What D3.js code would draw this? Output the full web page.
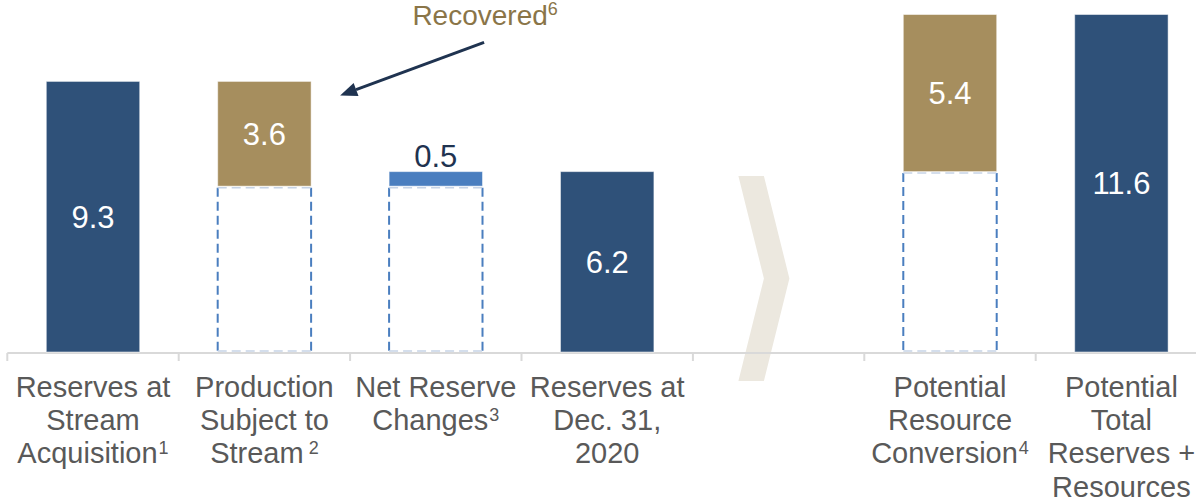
<!DOCTYPE html>
<html>
<head>
<meta charset="utf-8">
<script src="https://cdn.jsdelivr.net/npm/d3@7/dist/d3.min.js"></script>
<style>
  html, body { margin: 0; padding: 0; background: #ffffff; }
  svg { display: block; font-family: "Liberation Sans", Arial, sans-serif; }
</style>
</head>
<body>
<svg id="chart" width="1196" height="500"></svg>
<script>
// Reserve walk: category labels (one entry per line), footnote markers and step values
const categoryLines = [
  ["Reserves at", "Stream", "Acquisition"],
  ["Production", "Subject to", "Stream"],
  ["Net Reserve", "Changes"],
  ["Reserves at", "Dec. 31,", "2020"],
  [],
  ["Potential", "Resource", "Conversion"],
  ["Potential", "Total", "Reserves +", "Resources"]
];
const footnotes = ["1", "2", "3", "", "", "4", ""];
const stepKinds = ["total", "recovered", "change", "total", "gap", "resource", "total"];
const stepValues = [9.3, 3.6, 0.5, 6.2, null, 5.4, 11.6];
const annotationText = "Recovered";
const annotationNote = "6";

const colors = {
  total: "#2f5179",
  recovered: "#a68e5e",
  resource: "#a68e5e",
  change: "#4a7ebf",
  dashSide: "#4a7ebf",
  dashEdge: "#c6d3e6",
  axis: "#d9d9d9",
  label: "#595959",
  dark: "#1f3350",
  note: "#8a7548",
  chevron: "#ece8df"
};

const svg = d3.select("#chart");
const baseY = 352;

// Build the floating segments of the walk
let level = 0;
const segs = stepKinds.map((kind, i) => {
  const v = stepValues[i];
  let lo = null, hi = null;
  if (kind === "total") { lo = 0; hi = v; level = v; }
  else if (kind === "recovered") { hi = level; lo = level - v; level = lo; }
  else if (kind === "change" || kind === "resource") { lo = level; hi = level + v; level = hi; }
  return { i, kind, value: v, lo, hi };
});

const slots = d3.range(categoryLines.length);
const x = d3.scaleBand().domain(slots).range([7.3, 7.3 + 7 * 171.4]).padding(0);
const y = d3.scaleLinear().domain([0, 11.6]).range([baseY, 14.5]);
const barW = x.bandwidth() * 0.545;
const barX = i => x(i) + (x.bandwidth() - barW) / 2;

// Chevron separating reported reserves from potential resources
const gapIdx = stepKinds.indexOf("gap");
const cx0 = x(gapIdx) + 45.5;
const chevTop = 176, chevBot = 381, chevMid = (chevTop + chevBot) / 2;
svg.append("path")
  .attr("d", `M${cx0},${chevTop} L${cx0 + 25.5},${chevTop} L${cx0 + 51},${chevMid} L${cx0 + 25.5},${chevBot} L${cx0},${chevBot} L${cx0 + 25.5},${chevMid} Z`)
  .attr("fill", colors.chevron);

// Axis line with separators between categories
const axisG = svg.append("g");
axisG.append("line")
  .attr("x1", x.range()[0]).attr("x2", 1196)
  .attr("y1", baseY + 1).attr("y2", baseY + 1)
  .attr("stroke", colors.axis).attr("stroke-width", 2);
axisG.selectAll("line.tick")
  .data(slots.concat([slots.length]))
  .join("line")
  .attr("class", "tick")
  .attr("x1", d => d < slots.length ? x(d) : x.range()[1])
  .attr("x2", d => d < slots.length ? x(d) : x.range()[1])
  .attr("y1", baseY + 1).attr("y2", baseY + 9)
  .attr("stroke", colors.axis).attr("stroke-width", 2);

// Dashed outlines under the floating segments
const floating = segs.filter(s => s.kind === "recovered" || s.kind === "change" || s.kind === "resource");
const boxes = svg.append("g");
floating.forEach(s => {
  const x0 = barX(s.i), x1 = x0 + barW;
  const yTop = y(s.lo) + 1.5, yBot = y(0);
  boxes.append("line").attr("x1", x0).attr("x2", x0).attr("y1", yTop).attr("y2", yBot)
    .attr("stroke", colors.dashSide).attr("stroke-width", 2).attr("stroke-dasharray", "9,5");
  boxes.append("line").attr("x1", x1).attr("x2", x1).attr("y1", yTop).attr("y2", yBot)
    .attr("stroke", colors.dashSide).attr("stroke-width", 2).attr("stroke-dasharray", "9,5");
  boxes.append("line").attr("x1", x0).attr("x2", x1).attr("y1", yTop).attr("y2", yTop)
    .attr("stroke", colors.dashEdge).attr("stroke-width", 1.5).attr("stroke-dasharray", "9,5");
  boxes.append("line").attr("x1", x0).attr("x2", x1).attr("y1", yBot - 1).attr("y2", yBot - 1)
    .attr("stroke", colors.dashEdge).attr("stroke-width", 1.5).attr("stroke-dasharray", "9,5");
});

// Bars
const bars = segs.filter(s => s.kind !== "gap");
svg.append("g").selectAll("rect")
  .data(bars)
  .join("rect")
  .attr("x", d => barX(d.i))
  .attr("width", barW)
  .attr("y", d => y(d.hi))
  .attr("height", d => y(d.lo) - y(d.hi))
  .attr("fill", d => colors[d.kind])
  .attr("stroke", "#ffffff").attr("stroke-width", 1).attr("stroke-opacity", 0.5);

// Value labels: inside tall bars, above the thin change bar
svg.append("g").selectAll("text")
  .data(bars)
  .join("text")
  .attr("x", d => barX(d.i) + barW / 2)
  .attr("y", d => d.kind === "change" ? y(d.hi) - 5 : (y(d.lo) + y(d.hi)) / 2)
  .attr("dy", d => d.kind === "change" ? 0 : "0.36em")
  .attr("text-anchor", "middle")
  .attr("font-size", 31)
  .attr("fill", d => d.kind === "change" ? colors.dark : "#ffffff")
  .text(d => d3.format(".1f")(d.value));

// Category labels
const labelG = svg.append("g").attr("fill", colors.label).attr("font-size", 29);
categoryLines.forEach((lines, i) => {
  lines.forEach((line, j) => {
    const t = labelG.append("text")
      .attr("x", x(i) + x.bandwidth() / 2)
      .attr("y", 396.7 + j * 33.3)
      .attr("text-anchor", "middle");
    t.append("tspan").text(line);
    if (j === lines.length - 1 && footnotes[i]) {
      t.append("tspan")
        .attr("dx", i === 1 ? 5 : 1)
        .attr("dy", -9)
        .attr("font-size", 18)
        .text(footnotes[i]);
    }
  });
});

// Annotation pointing at the recovered segment
const rec = segs.find(s => s.kind === "recovered");
const tipX = barX(rec.i) + barW + 29, tipY = y(rec.hi) + 14;
const tailX = tipX + 144, tailY = tipY - 53;
const ang = Math.atan2(tipY - tailY, tipX - tailX);
const headLen = 17, headHalf = 7;
const bx = tipX - headLen * Math.cos(ang), by = tipY - headLen * Math.sin(ang);
svg.append("line")
  .attr("x1", tailX).attr("y1", tailY).attr("x2", bx).attr("y2", by)
  .attr("stroke", colors.dark).attr("stroke-width", 3);
svg.append("path")
  .attr("d", `M${tipX},${tipY} L${bx + headHalf * Math.sin(ang)},${by - headHalf * Math.cos(ang)} L${bx - headHalf * Math.sin(ang)},${by + headHalf * Math.cos(ang)} Z`)
  .attr("fill", colors.dark);
const note = svg.append("text")
  .attr("x", tailX + 1).attr("y", 25)
  .attr("text-anchor", "middle")
  .attr("font-size", 28)
  .attr("fill", colors.note);
note.append("tspan").text(annotationText);
note.append("tspan").attr("dy", -10).attr("font-size", 18).text(annotationNote);
</script>
</body>
</html>
